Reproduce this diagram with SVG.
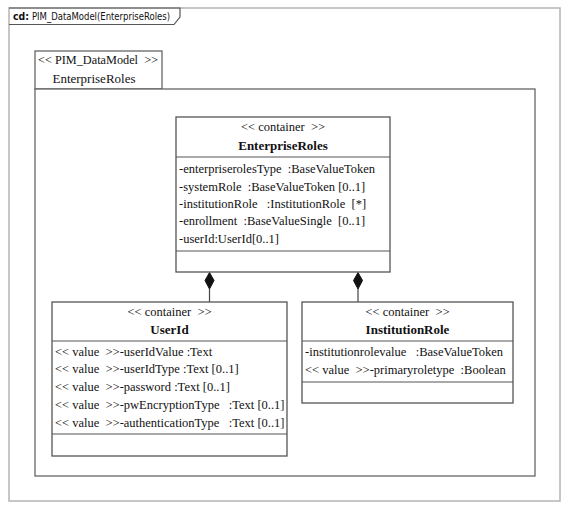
<svg xmlns="http://www.w3.org/2000/svg" width="568" height="509" viewBox="0 0 568 509">
<style>
.frame{fill:#fff;stroke:#b4b4b4;stroke-width:1.5}
.pkg{fill:#fff;stroke:#666;stroke-width:1.3}
.box{fill:#fff;stroke:#555;stroke-width:1.3}
.div{stroke:#555;stroke-width:1.2}
.t{font-family:"Liberation Serif","Times New Roman",serif;font-size:12.5px;fill:#111;white-space:pre}
.c{text-anchor:middle}
.b{font-weight:bold;font-size:13px}
.lbl{font-family:"DejaVu Sans","Liberation Sans",sans-serif;font-size:10px;fill:#111}
.conn{stroke:#444;stroke-width:1.2;fill:none}
.dia{fill:#111;stroke:#111;stroke-width:1}
</style>
<rect width="568" height="509" fill="#fff"/>
<g id="frame">
<rect class="frame" x="9" y="8" width="551" height="493"/>
<path d="M9,8 H180 V17 L174,24.5 H9" fill="none" stroke="#555" stroke-width="1.2"/>
<text class="lbl" x="13" y="20" font-weight="bold" textLength="16" lengthAdjust="spacingAndGlyphs">cd:</text>
<text class="lbl" x="32" y="20" textLength="138" lengthAdjust="spacingAndGlyphs">PIM_DataModel(EnterpriseRoles)</text>
</g>
<g id="package">
<rect class="pkg" x="35" y="51" width="127" height="38"/>
<rect class="pkg" x="35" y="89" width="500" height="387"/>
<text class="t c" x="98" y="64" style="font-size:13px" textLength="120" lengthAdjust="spacingAndGlyphs">&lt;&lt; PIM_DataModel  &gt;&gt;</text>
<text class="t c" x="94" y="83" style="font-size:13px">EnterpriseRoles</text>
</g>
<g id="connectors">
<line class="conn" x1="209.5" y1="289" x2="209.5" y2="302"/>
<path class="dia" d="M209.5,272.5 L214,280.5 L209.5,289 L205,280.5 Z"/>
<line class="conn" x1="358" y1="289" x2="358" y2="302"/>
<path class="dia" d="M358,272.5 L362.5,280.5 L358,289 L353.5,280.5 Z"/>
</g>
<g id="EnterpriseRoles">
<rect class="box" x="176" y="117" width="214" height="155"/>
<line class="div" x1="176" y1="157" x2="390" y2="157"/>
<line class="div" x1="176" y1="251" x2="390" y2="251"/>
<text class="t c" x="283" y="131">&lt;&lt; container  &gt;&gt;</text>
<text class="t c b" x="283" y="150">EnterpriseRoles</text>
<text class="t" x="179" y="173">-enterpriserolesType  :BaseValueToken</text>
<text class="t" x="179" y="191">-systemRole  :BaseValueToken [0..1]</text>
<text class="t" x="179" y="208">-institutionRole   :InstitutionRole  [*]</text>
<text class="t" x="179" y="225">-enrollment  :BaseValueSingle  [0..1]</text>
<text class="t" x="179" y="243">-userId:UserId[0..1]</text>
</g>
<g id="UserId">
<rect class="box" x="52" y="302" width="235" height="154"/>
<line class="div" x1="52" y1="341" x2="287" y2="341"/>
<line class="div" x1="52" y1="434" x2="287" y2="434"/>
<text class="t c" x="169.5" y="316">&lt;&lt; container  &gt;&gt;</text>
<text class="t c b" x="169.5" y="334">UserId</text>
<text class="t" x="55" y="356">&lt;&lt; value  &gt;&gt;-userIdValue :Text</text>
<text class="t" x="55" y="373">&lt;&lt; value  &gt;&gt;-userIdType :Text [0..1]</text>
<text class="t" x="55" y="391">&lt;&lt; value  &gt;&gt;-password :Text [0..1]</text>
<text class="t" x="55" y="409">&lt;&lt; value  &gt;&gt;-pwEncryptionType   :Text [0..1]</text>
<text class="t" x="55" y="427">&lt;&lt; value  &gt;&gt;-authenticationType   :Text [0..1]</text>
</g>
<g id="InstitutionRole">
<rect class="box" x="302" y="302" width="211" height="101"/>
<line class="div" x1="302" y1="341" x2="513" y2="341"/>
<line class="div" x1="302" y1="382" x2="513" y2="382"/>
<text class="t c" x="407.5" y="316">&lt;&lt; container  &gt;&gt;</text>
<text class="t c b" x="407.5" y="334">InstitutionRole</text>
<text class="t" x="305" y="356">-institutionrolevalue   :BaseValueToken</text>
<text class="t" x="305" y="374">&lt;&lt; value  &gt;&gt;-primaryroletype  :Boolean</text>
</g>
</svg>
